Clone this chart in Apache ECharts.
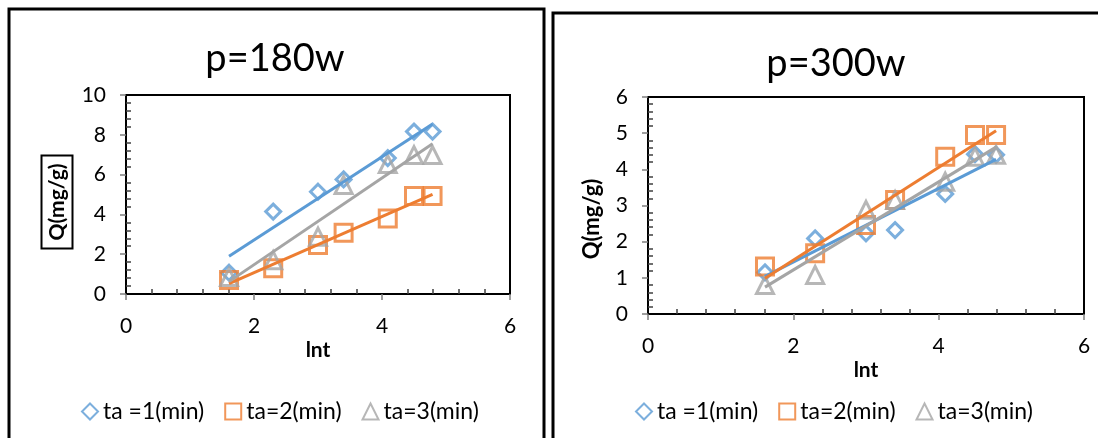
<!DOCTYPE html>
<html>
<head>
<meta charset="utf-8">
<style>
  html, body { margin: 0; padding: 0; background: #fff; }
  #chart { width: 1098px; height: 438px; }
</style>
<script src="https://cdn.jsdelivr.net/npm/echarts@6/dist/echarts.min.js"></script>
</head>
<body>
<div id="chart"></div>
<script>
// ln(t) 横坐标
var lnT = [1.61, 2.30, 3.00, 3.40, 4.09, 4.50, 4.79];
var seriesNames = ['ta =1(min)', 'ta=2(min)', 'ta=3(min)'];

// p=180w
var q180Ta1 = [1.07, 4.14, 5.14, 5.76, 6.83, 8.16, 8.16];
var q180Ta2 = [0.70, 1.29, 2.46, 3.08, 3.80, 4.92, 4.92];
var q180Ta3 = [0.85, 1.70, 2.88, 5.48, 6.53, 6.98, 6.98];

// p=300w
var q300Ta1 = [1.15, 2.09, 2.23, 2.32, 3.32, 4.42, 4.40];
var q300Ta2 = [1.31, 1.68, 2.46, 3.15, 4.35, 4.95, 4.95];
var q300Ta3 = [0.80, 1.08, 2.88, 3.15, 3.66, 4.35, 4.40];

var colors = ['#5B9BD5', '#ED7D31', '#A5A5A5'];
var symbols = ['diamond', 'rect', 'triangle'];
var symbolSizes = [15, 17, 17];
var fontFamily = 'Lato, "Open Sans", sans-serif';

// 线性趋势线（最小二乘）
function trend(xs, ys) {
    var n = xs.length, mx = 0, my = 0;
    for (var i = 0; i < n; i++) { mx += xs[i]; my += ys[i]; }
    mx /= n; my /= n;
    var sxy = 0, sxx = 0;
    for (var i = 0; i < n; i++) {
        sxy += (xs[i] - mx) * (ys[i] - my);
        sxx += (xs[i] - mx) * (xs[i] - mx);
    }
    var b = sxy / sxx, a = my - b * mx;
    var x0 = Math.min.apply(null, xs), x1 = Math.max.apply(null, xs);
    return [[x0, a + b * x0], [x1, a + b * x1]];
}

function pairs(xs, ys) {
    var d = [];
    for (var i = 0; i < xs.length; i++) d.push([xs[i], ys[i]]);
    return d;
}

function makeXAxis(gridIndex) {
    return {
        gridIndex: gridIndex, type: 'value', min: 0, max: 6, interval: 2,
        axisLine: { onZero: false, lineStyle: { color: '#000', width: 2 } },
        axisTick: { length: 6, lineStyle: { color: '#7f7f7f', width: 1.5 } },
        minorTick: { show: true, splitNumber: 5, length: -5, lineStyle: { color: '#404040', width: 1.5 } },
        splitLine: { show: false },
        axisLabel: { fontSize: 21, color: '#000', fontFamily: fontFamily, margin: 22 },
        name: 'lnt', nameLocation: 'middle', nameGap: 46,
        nameTextStyle: { fontSize: 21, fontWeight: 'bold', color: '#000', fontFamily: fontFamily }
    };
}

function makeYAxis(gridIndex, max, interval) {
    return {
        gridIndex: gridIndex, type: 'value', min: 0, max: max, interval: interval,
        axisLine: { onZero: false, lineStyle: { color: '#000', width: 2 } },
        axisTick: { length: 6, lineStyle: { color: '#7f7f7f', width: 1.5 } },
        minorTick: { show: true, splitNumber: 5, length: -5, lineStyle: { color: '#404040', width: 1.5 } },
        splitLine: { show: false },
        axisLabel: { fontSize: 21, color: '#000', fontFamily: fontFamily, margin: 20 }
    };
}

var panels = [[q180Ta1, q180Ta2, q180Ta3], [q300Ta1, q300Ta2, q300Ta3]];
var series = [];
panels.forEach(function (ys, p) {
    ys.forEach(function (arr, k) {
        series.push({
            name: seriesNames[k], type: 'scatter',
            xAxisIndex: p, yAxisIndex: p,
            symbol: symbols[k], symbolSize: symbolSizes[k],
            itemStyle: { color: 'rgba(255,255,255,0)', borderColor: colors[k], borderWidth: 3 },
            data: pairs(lnT, arr), z: 3
        });
        series.push({
            name: 'trend' + p + k, type: 'line',
            xAxisIndex: p, yAxisIndex: p,
            showSymbol: false, silent: true,
            lineStyle: { color: colors[k], width: 3 },
            data: trend(lnT, arr), z: 4
        });
    });
});

var legendStyle = {
    data: seriesNames, itemWidth: 16, itemHeight: 16, itemGap: 20,
    textStyle: { fontSize: 23, color: '#000', fontFamily: fontFamily }
};

var myChart = echarts.init(document.getElementById('chart'));
var option = {
    backgroundColor: '#fff',
    animation: false,
    title: [
        { text: 'p=180w', left: 270, top: 35, textAlign: 'center',
          textStyle: { fontSize: 38, fontWeight: 'normal', color: '#000', fontFamily: fontFamily } },
        { text: 'p=300w', left: 831, top: 40, textAlign: 'center',
          textStyle: { fontSize: 38, fontWeight: 'normal', color: '#000', fontFamily: fontFamily } }
    ],
    legend: [
        Object.assign({ left: 76, top: 395 }, legendStyle),
        Object.assign({ left: 630, top: 395 }, legendStyle)
    ],
    grid: [
        { left: 126, top: 95, width: 384, height: 199, show: true, borderColor: '#000', borderWidth: 2 },
        { left: 648, top: 97, width: 436, height: 217, show: true, borderColor: '#000', borderWidth: 2 }
    ],
    xAxis: [makeXAxis(0), makeXAxis(1)],
    yAxis: [makeYAxis(0, 10, 2), makeYAxis(1, 6, 1)],
    series: series,
    graphic: [
        { type: 'rect', shape: { x: 9, y: 9, width: 535, height: 440 },
          style: { fill: 'none', stroke: '#000', lineWidth: 3 } },
        { type: 'rect', shape: { x: 553, y: 13, width: 560, height: 440 },
          style: { fill: 'none', stroke: '#000', lineWidth: 3 } },
        { type: 'text', x: 57, y: 202, rotation: Math.PI / 2,
          style: { text: 'Q(mg/g)', font: 'bold 21px ' + fontFamily, fill: '#000',
                   align: 'center', verticalAlign: 'middle',
                   borderColor: '#000', borderWidth: 2, padding: [6, 8, 4, 8] } },
        { type: 'text', x: 592, y: 219, rotation: Math.PI / 2,
          style: { text: 'Q(mg/g)', font: 'bold 22px ' + fontFamily, fill: '#000',
                   align: 'center', verticalAlign: 'middle' } }
    ]
};
myChart.setOption(option);
</script>
</body>
</html>
